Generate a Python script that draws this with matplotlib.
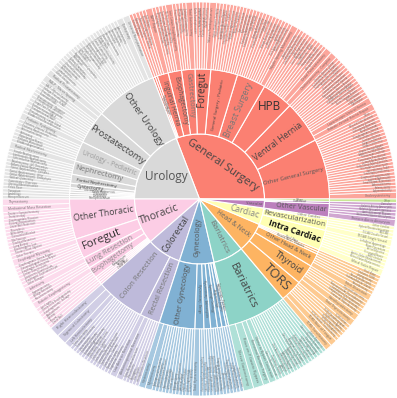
import math
import matplotlib.pyplot as plt
import matplotlib.colors as mcolors

plt.rcParams['font.family'] = ['Open Sans', 'DejaVu Sans']

# ---- 叶子层：手术名称与病例数 ----
# General Surgery
other_general_surgery = [("Cholecystectomy", 2), ("Appendectomy", 1), ("Splenectomy", 1), ("Adrenalectomy", 1),
                         ("Small Bowel Resection", 1), ("Lysis of Adhesions", 1), ("Diagnostic Laparoscopy", 1),
                         ("Feeding Jejunostomy", 1), ("Gastrostomy Tube", 1), ("Pilonidal Cyst Excision", 1),
                         ("Soft Tissue Mass Excision", 1), ("Lymph Node Biopsy", 1), ("Pancreatic Pseudocyst", 1),
                         ("Peritoneal Catheter", 1), ("Abdominal Wall Mass", 1), ("Hiatal Hernia Repair", 1),
                         ("Umbilical Hernia", 1), ("Spigelian Hernia", 1), ("Lumbar Hernia", 1),
                         ("Obturator Hernia", 1), ("Diaphragmatic Hernia", 1), ("Mesh Removal", 1),
                         ("Colostomy Reversal", 1), ("Ileostomy Creation", 1), ("Wound Debridement", 1), ("Other", 1)]
ventral_hernia = [("Robotic Ventral Hernia Repair", 2), ("Laparoscopic Ventral Hernia", 2), ("TAR Repair", 1),
                  ("eTEP Repair", 1), ("IPOM Repair", 1), ("Rives-Stoppa Repair", 1), ("Incisional Hernia Repair", 1),
                  ("Parastomal Hernia Repair", 1), ("Umbilical Hernia Repair", 1), ("Epigastric Hernia Repair", 1),
                  ("Recurrent Ventral Hernia", 1), ("Component Separation", 1), ("Diastasis Recti Repair", 1),
                  ("Flank Hernia Repair", 1), ("Suprapubic Hernia Repair", 1), ("Subxiphoid Hernia Repair", 1),
                  ("Ventral Hernia - Other", 1)]
hpb = [("Cholecystectomy - Complex", 2), ("Distal Pancreatectomy", 2), ("Whipple Procedure", 1),
       ("Liver Resection", 1), ("Hepatectomy - Left", 1), ("Hepatectomy - Right", 1), ("Segmentectomy", 1),
       ("Liver Wedge Resection", 1), ("CBD Exploration", 1), ("Choledochal Cyst Excision", 1),
       ("Pancreatic Enucleation", 1), ("Hepaticojejunostomy", 1)]
breast_surgery = [("Nipple Sparing Mastectomy", 2), ("Robotic Mastectomy", 1), ("Skin Sparing Mastectomy", 1),
                  ("Lumpectomy", 1), ("Sentinel Node Biopsy", 1), ("Axillary Dissection", 1),
                  ("Breast Reconstruction", 1), ("DIEP Flap", 1), ("Latissimus Flap", 1),
                  ("Prophylactic Mastectomy", 1), ("Breast Reduction", 1), ("Other Breast", 1)]
gs_pediatric = [("Pediatric Cholecystectomy", 1), ("Pediatric Appendectomy", 1), ("Pyloromyotomy", 1),
                ("Kasai Procedure", 1), ("Nissen - Pediatric", 1), ("Pediatric Splenectomy", 1),
                ("Pediatric Inguinal Hernia", 1), ("Choledochal Cyst - Pediatric", 1), ("Pull-through Procedure", 1),
                ("Duodenal Atresia Repair", 1), ("Pediatric Gastrostomy", 1), ("Other Pediatric Surgery", 1)]
gs_foregut = [("Nissen Fundoplication", 2), ("Heller Myotomy", 1), ("Paraesophageal Hernia", 1),
              ("Toupet Fundoplication", 1), ("LINX Placement", 1), ("Redo Fundoplication", 1)]
gastrectomy = [("Total Gastrectomy", 2), ("Subtotal Gastrectomy", 1), ("Distal Gastrectomy", 1),
               ("Wedge Gastrectomy", 1), ("Proximal Gastrectomy", 1)]
gs_esophagectomy = [("Ivor Lewis Esophagectomy", 2), ("McKeown Esophagectomy", 1), ("Transhiatal Esophagectomy", 1),
                    ("Minimally Invasive Esophagectomy", 1), ("Esophageal Diverticulum", 1)]
inguinal_hernia = [("TAPP Repair", 2), ("TEP Repair", 1), ("Bilateral Inguinal Hernia", 1),
                   ("Recurrent Inguinal Hernia", 1)]
bowel_resection = [("Bowel Resection", 1)]
fistula_repair = [("Fistula Repair", 1)]

# Urology
other_urology = [("Ureteral Reimplantation", 2), ("Pyeloplasty", 2), ("Adrenalectomy", 1), ("Urethroplasty", 1),
                 ("Sacrocolpopexy", 1), ("Ureterolysis", 1), ("Ureteroureterostomy", 1), ("Boari Flap", 1),
                 ("Psoas Hitch", 1), ("Bladder Diverticulectomy", 1), ("Partial Cystectomy", 1),
                 ("Vesicovaginal Fistula", 1), ("Retroperitoneal LND", 1), ("Nephroureterectomy", 1),
                 ("Simple Prostatectomy", 1), ("Ileal Conduit", 1), ("Neobladder", 1),
                 ("Augmentation Cystoplasty", 1), ("Mitrofanoff", 1), ("Kidney Transplant", 1),
                 ("Donor Nephrectomy", 1), ("Urachal Excision", 1), ("Varicocelectomy", 1), ("Orchiectomy", 1),
                 ("Lymphadenectomy", 1), ("Other Urology", 1)]
prostatectomy = [("Radical Prostatectomy", 2), ("RALP - Nerve Sparing", 2), ("RALP - Retzius Sparing", 1),
                 ("Salvage Prostatectomy", 1), ("Prostatectomy + PLND", 1), ("Extended PLND", 1),
                 ("Prostatectomy - Posterior", 1), ("Prostatectomy - Anterior", 1), ("Single Port Prostatectomy", 1),
                 ("Extraperitoneal RALP", 1), ("Transperitoneal RALP", 1), ("Prostatectomy - Large Gland", 1),
                 ("Bladder Neck Reconstruction", 1)]
urology_pediatric = [("Pediatric Pyeloplasty", 2), ("Pediatric Ureteral Reimplant", 1), ("Pediatric Nephrectomy", 1),
                     ("Heminephrectomy", 1), ("Orchiopexy", 1), ("Hypospadias Repair", 1),
                     ("Pediatric Mitrofanoff", 1), ("Bladder Augmentation", 1)]
nephrectomy = [("Radical Nephrectomy", 2), ("Simple Nephrectomy", 1), ("Laparoscopic Nephrectomy", 1),
               ("Cytoreductive Nephrectomy", 1), ("Nephrectomy - IVC Thrombus", 1)]
partial_nephrectomy = [("Robotic Partial Nephrectomy", 1), ("Partial Nephrectomy - Complex", 1),
                       ("Partial Nephrectomy - Hilar", 1), ("Partial Nephrectomy - Endophytic", 1)]
cystectomy = [("Radical Cystectomy", 1), ("Cystectomy + Diversion", 1)]
ureteral_reconstruction = [("Ureteral Reconstruction", 1)]
pelvic_floor = [("Pelvic Floor", 1)]
transplant = [("Transplant", 1)]
andrology = [("Andrology", 1)]
retroperitoneum = [("Retroperitoneum", 1)]

# Thoracic
other_thoracic = [("Thymectomy", 2), ("Mediastinal Mass Resection", 2), ("Thoracic Sympathectomy", 1),
                  ("Thoracoscopy", 1), ("Diaphragmatic Plication", 1), ("Pleural Decortication", 1),
                  ("Chest Wall Resection", 1), ("Pleurodesis", 1), ("Bullectomy", 1), ("Pericardial Window", 1),
                  ("Rib Fixation", 1), ("Tracheal Resection", 1), ("Lung Biopsy", 1), ("Bronchogenic Cyst", 1),
                  ("Thoracic Duct Ligation", 1), ("Other Thoracic", 1)]
thoracic_foregut = [("Esophageal Myotomy", 2), ("Diaphragmatic Hernia Repair", 1), ("Paraesophageal Hernia Repair", 1),
                    ("Esophageal Leiomyoma", 1), ("Zenker Diverticulum", 1), ("Epiphrenic Diverticulum", 1),
                    ("Esophageal Duplication Cyst", 1), ("Other Foregut", 1)]
lung_resection = [("Lobectomy", 2), ("Segmentectomy", 1), ("Wedge Resection", 1), ("Pneumonectomy", 1)]
thoracic_esophagectomy = [("Robotic Esophagectomy", 2), ("Ivor Lewis", 1), ("Three-Field Esophagectomy", 1),
                          ("Esophagectomy - Salvage", 1)]
mediastinum = [("Mediastinum", 1)]
airway = [("Airway", 1)]
pleura = [("Pleura", 1)]
chest_wall = [("Chest Wall", 1)]

# Colorectal
colon_resection = [("Right Hemicolectomy", 3), ("Sigmoid Colectomy", 3), ("Left Hemicolectomy", 2),
                   ("Total Colectomy", 1), ("Transverse Colectomy", 1), ("Ileocecectomy", 1),
                   ("Subtotal Colectomy", 1), ("Extended Right Colectomy", 1), ("Hartmann Reversal", 1),
                   ("Colectomy - Diverticulitis", 1), ("Colectomy - Cancer", 1), ("Colectomy - IBD", 1),
                   ("Complete Mesocolic Excision", 1), ("Splenic Flexure Resection", 1), ("Colectomy + Ostomy", 1),
                   ("Redo Colectomy", 1), ("Segmental Colectomy", 1)]
rectal_resection = [("Low Anterior Resection", 2), ("Abdominoperineal Resection", 2),
                    ("Total Mesorectal Excision", 1), ("Proctectomy", 1), ("Rectopexy", 1), ("Ileal Pouch", 1),
                    ("Intersphincteric Resection", 1)]

# Gynecology
other_gynecology = [("Hysterectomy", 2), ("Myomectomy", 2), ("Salpingo-oophorectomy", 1), ("Ovarian Cystectomy", 1),
                    ("Endometriosis Excision", 1), ("Sacrocolpopexy", 1), ("Cervical Cerclage", 1),
                    ("Tubal Ligation", 1), ("Salpingectomy", 1), ("Ovarian Transposition", 1), ("Adnexal Mass", 1),
                    ("Vaginal Cuff Repair", 1), ("Other Gynecology", 1), ("Ectopic Pregnancy", 1)]
hysterectomy_benign = [("Total Hysterectomy", 2), ("Supracervical Hysterectomy", 1), ("Hysterectomy - Fibroids", 1)]
hysterectomy_adenomyosis = [("Adenomyomectomy", 1), ("Hysterectomy - Large Uterus", 1),
                            ("Hysterectomy - Adenomyosis", 1)]
gyn_oncology = [("Radical Hysterectomy", 1), ("Staging Lymphadenectomy", 1), ("Omentectomy", 1)]
urogynecology = [("Pelvic Organ Prolapse", 1), ("Burch Colposuspension", 1)]
reproductive_surgery = [("Tubal Reanastomosis", 1), ("Septum Resection", 1)]
gyn_pediatric = [("Ovarian Torsion", 1)]

# Bariatrics
bariatrics_procs = [("Sleeve Gastrectomy", 3), ("Roux-en-Y Gastric Bypass", 3), ("Revisional Bariatric Surgery", 2),
                    ("Sleeve to Bypass Conversion", 2), ("Gastric Band Removal", 1), ("Duodenal Switch", 1),
                    ("SADI-S", 1), ("One Anastomosis Bypass", 1), ("Band to Sleeve", 1), ("Band to Bypass", 1),
                    ("Bypass Revision", 1), ("Bypass Reversal", 1), ("Gastrojejunostomy Revision", 1),
                    ("Marginal Ulcer Repair", 1), ("Internal Hernia Repair", 1), ("Hiatal Hernia + Sleeve", 1),
                    ("Gastric Plication", 1), ("Limb Lengthening", 1), ("Pouch Resizing", 1),
                    ("Gastric Balloon Removal", 1), ("Other Bariatrics", 1)]

# Head & Neck
tors = [("TORS Tonsillectomy", 2), ("TORS Base of Tongue", 2), ("TORS Radical Tonsillectomy", 1),
        ("TORS Supraglottic", 1), ("TORS Lingual Tonsil", 1), ("TORS Sleep Apnea", 1), ("TORS Parapharyngeal", 1),
        ("TORS Other", 1)]
thyroid = [("Total Thyroidectomy", 2), ("Hemithyroidectomy", 2), ("Transoral Thyroidectomy", 1),
           ("Transaxillary Thyroidectomy", 1), ("Completion Thyroidectomy", 1), ("Retroauricular Thyroidectomy", 1),
           ("Thyroid Lobectomy", 1)]
other_head_neck = [("Neck Dissection", 2), ("Parotidectomy", 1), ("Submandibular Gland", 1),
                   ("Parathyroidectomy", 1), ("Laryngectomy", 1)]
hn_pediatric = [("Pediatric TORS", 1)]
skull_base = [("Skull Base", 1)]

# Cardiac
intra_cardiac = [("Mitral Valve Repair", 2), ("Mitral Valve Replacement", 1), ("Aortic Valve Replacement", 1),
                 ("ASD Closure", 1), ("Tricuspid Repair", 1), ("Atrial Myxoma", 1), ("Maze Procedure", 1),
                 ("Left Atrial Appendage", 1)]
revascularization = [("TECAB Single Vessel", 2), ("TECAB Double Vessel", 1), ("MIDCAB", 1),
                     ("Hybrid Revascularization", 1)]
other_cardiac = [("Other Cardiac", 1)]

# Vascular / Other
other_vascular = [("Thoracic Aortic Aneurysm", 2), ("Abdominal Aortic Aneurysm", 1), ("Aortobifemoral Bypass", 1),
                  ("Median Arcuate Ligament", 1), ("Splenic Artery Aneurysm", 1)]
vascular_procs = [("Vascular", 1)]
other_procs = [("Other", 1)]

# ---- 中间层 ----
general_surgery = [("Other General Surgery", other_general_surgery), ("Ventral Hernia", ventral_hernia),
                   ("HPB", hpb), ("Breast Surgery", breast_surgery),
                   ("General Surgery - Pediatric", gs_pediatric), ("Foregut", gs_foregut),
                   ("Gastrectomy", gastrectomy), ("Esophagectomy", gs_esophagectomy),
                   ("Inguinal Hernia", inguinal_hernia), ("Bowel Resection", bowel_resection),
                   ("Fistula Repair", fistula_repair)]
urology = [("Other Urology", other_urology), ("Prostatectomy", prostatectomy),
           ("Urology - Pediatric", urology_pediatric), ("Nephrectomy", nephrectomy),
           ("Partial Nephrectomy", partial_nephrectomy), ("Cystectomy", cystectomy),
           ("Ureteral Reconstruction", ureteral_reconstruction), ("Pelvic Floor", pelvic_floor),
           ("Transplant", transplant), ("Andrology", andrology), ("Retroperitoneum", retroperitoneum)]
thoracic = [("Other Thoracic", other_thoracic), ("Foregut", thoracic_foregut), ("Lung Resection", lung_resection),
            ("Esophagectomy", thoracic_esophagectomy), ("Mediastinum", mediastinum), ("Airway", airway),
            ("Pleura", pleura), ("Chest Wall", chest_wall)]
colorectal = [("Colon Resection", colon_resection), ("Rectal Resection", rectal_resection)]
gynecology = [("Other Gynecology", other_gynecology), ("Hysterectomy - Benign", hysterectomy_benign),
              ("Hysterectomy - Adenomyosis", hysterectomy_adenomyosis), ("Gynecologic Oncology", gyn_oncology),
              ("Urogynecology", urogynecology), ("Reproductive Surgery", reproductive_surgery),
              ("Gynecology - Pediatric", gyn_pediatric)]
bariatrics = [("Bariatrics", bariatrics_procs)]
head_neck = [("TORS", tors), ("Thyroid", thyroid), ("Other Head & Neck", other_head_neck),
             ("Head & Neck - Pediatric", hn_pediatric), ("Skull Base", skull_base)]
cardiac = [("Intra Cardiac", intra_cardiac), ("Revascularization", revascularization),
           ("Other Cardiac", other_cardiac)]
vascular = [("Other Vascular", other_vascular), ("Vascular", vascular_procs)]
other = [("Other", other_procs)]

# ---- 内层 ----
specialties = ["General Surgery", "Urology", "Thoracic", "Colorectal", "Gynecology",
               "Bariatrics", "Head & Neck", "Cardiac", "Vascular", "Other"]
specialty_children = [general_surgery, urology, thoracic, colorectal, gynecology,
                      bariatrics, head_neck, cardiac, vascular, other]
specialty_colors = ["#FB8072", "#D9D9D9", "#FCCDE5", "#BEBADA", "#80B1D3",
                    "#8DD3C7", "#FDB462", "#FFFFB3", "#BC80BD", "#B3DE69"]

# 标签样式: (字号, 颜色, 方向, 半径)
inner_style = {
    "General Surgery": (8, "#444444", "tangential", 41),
    "Urology": (8.5, "#555555", "horizontal", 40),
    "Thoracic": (7.5, "#444444", "radial", 43),
    "Colorectal": (6.5, "#444444", "radial", 42),
    "Gynecology": (5.2, "#555555", "radial", 38),
    "Bariatrics": (6, "#777777", "radial", 42),
    "Head & Neck": (4.8, "#666666", "radial", 42),
    "Cardiac": (6.2, "#888888", "radial", 47),
    "Vascular": (3, "#555555", "radial", 55),
}
mid_style = {
    ("General Surgery", "Other General Surgery"): (4.2, "#555555", "radial", 97),
    ("General Surgery", "Ventral Hernia"): (6.2, "#444444", "radial", 97),
    ("General Surgery", "HPB"): (8.5, "#333333", "horizontal", 116),
    ("General Surgery", "Breast Surgery"): (6.2, "#777777", "radial", 97),
    ("General Surgery", "General Surgery - Pediatric"): (3, "#444444", "radial", 96),
    ("General Surgery", "Foregut"): (7, "#333333", "radial", 110),
    ("General Surgery", "Gastrectomy"): (5.5, "#777777", "radial", 104),
    ("General Surgery", "Esophagectomy"): (4.9, "#555555", "radial", 100),
    ("General Surgery", "Inguinal Hernia"): (4.7, "#555555", "radial", 100),
    ("Urology", "Other Urology"): (6.8, "#444444", "radial", 97),
    ("Urology", "Prostatectomy"): (6.8, "#444444", "radial", 98),
    ("Urology", "Urology - Pediatric"): (4.9, "#999999", "radial", 97),
    ("Urology", "Nephrectomy"): (5.6, "#777777", "radial", 104),
    ("Urology", "Partial Nephrectomy"): (3.1, "#333333", "radial", 104),
    ("Urology", "Cystectomy"): (3.6, "#444444", "radial", 110),
    ("Thoracic", "Other Thoracic"): (6.3, "#444444", "radial", 97),
    ("Thoracic", "Foregut"): (8.2, "#333333", "radial", 106),
    ("Thoracic", "Lung Resection"): (5.3, "#888888", "radial", 103),
    ("Thoracic", "Esophagectomy"): (4.9, "#888888", "radial", 105),
    ("Colorectal", "Colon Resection"): (5.6, "#777777", "radial", 97),
    ("Colorectal", "Rectal Resection"): (5.3, "#777777", "radial", 97),
    ("Gynecology", "Other Gynecology"): (5.2, "#555555", "radial", 97),
    ("Bariatrics", "Bariatrics"): (8, "#444444", "radial", 97),
    ("Head & Neck", "TORS"): (9.5, "#444444", "radial", 110),
    ("Head & Neck", "Thyroid"): (6.6, "#444444", "radial", 110),
    ("Head & Neck", "Other Head & Neck"): (4.1, "#555555", "radial", 100),
    ("Cardiac", "Intra Cardiac"): (6, "#111111", "radial", 100),
    ("Cardiac", "Revascularization"): (5.6, "#555555", "radial", 97),
    ("Cardiac", "Other Cardiac"): (2.6, "#666666", "radial", 110),
    ("Vascular", "Other Vascular"): (5.2, "#555555", "radial", 102),
    ("Vascular", "Vascular"): (2.4, "#555555", "radial", 100),
}
bold_labels = {("Cardiac", "Intra Cardiac")}

R_IN, R_MID, R_OUT = 65, 130, 197


def label_rotation(theta, mode):
    """根据方向模式计算文字旋转角"""
    if mode == "horizontal":
        return 0
    if mode == "tangential":
        rot = theta - 90
        if rot < -90:
            rot += 180
        return rot
    rot = theta
    if 90 < theta < 270:
        rot -= 180
    elif theta >= 270:
        rot -= 360
    return rot


def put_label(ax, text, theta, r, fs, color, mode, weight="normal"):
    x = r * math.cos(math.radians(theta))
    y = r * math.sin(math.radians(theta))
    ax.text(x, y, text, fontsize=fs, color=color, ha="center", va="center",
            rotation=label_rotation(theta, mode), rotation_mode="anchor", fontweight=weight)


# 整理三层数据
inner_vals = []
mid_names, mid_vals, mid_colors, mid_groups = [], [], [], []
leaf_names, leaf_vals, leaf_colors = [], [], []
for name, children, color in zip(specialties, specialty_children, specialty_colors):
    total = 0
    for mname, leaves in children:
        msum = sum(v for _, v in leaves)
        mid_names.append(mname)
        mid_vals.append(msum)
        mid_colors.append(color)
        mid_groups.append(name)
        total += msum
        for lname, v in leaves:
            leaf_names.append(lname)
            leaf_vals.append(v)
            leaf_colors.append(mcolors.to_rgba(color, 0.7))
    inner_vals.append(total)

fig = plt.figure(figsize=(3.97, 3.98), dpi=100)
ax = fig.add_axes([0, 0, 1, 1])

w_in, _ = ax.pie(inner_vals, radius=R_IN, colors=specialty_colors, startangle=0, counterclock=True,
                 wedgeprops=dict(width=R_IN, edgecolor="white", linewidth=0.8))
w_mid, _ = ax.pie(mid_vals, radius=R_MID, colors=mid_colors, startangle=0, counterclock=True,
                  wedgeprops=dict(width=R_MID - R_IN, edgecolor="white", linewidth=0.8))
w_out, _ = ax.pie(leaf_vals, radius=R_OUT, colors=leaf_colors, startangle=0, counterclock=True,
                  wedgeprops=dict(width=R_OUT - R_MID, edgecolor="white", linewidth=0.6))

# 内层标签
for w, name in zip(w_in, specialties):
    if name not in inner_style:
        continue
    fs, color, mode, r = inner_style[name]
    put_label(ax, name, (w.theta1 + w.theta2) / 2, r, fs, color, mode)

# 中间层标签
for w, name, grp in zip(w_mid, mid_names, mid_groups):
    fs, color, mode, r = mid_style.get((grp, name), (2.0, "#555555", "radial", 100))
    weight = "bold" if (grp, name) in bold_labels else "normal"
    put_label(ax, name, (w.theta1 + w.theta2) / 2, r, fs, color, mode, weight)

# 外层标签：径向排列，贴近外缘
for w, name, v in zip(w_out, leaf_names, leaf_vals):
    theta = (w.theta1 + w.theta2) / 2
    fs = min(1.9 + 0.5 * (v - 1), 58 / (0.75 * len(name)))
    r = R_OUT - 5
    x = r * math.cos(math.radians(theta))
    y = r * math.sin(math.radians(theta))
    if 90 < theta < 270:
        rot, ha = theta - 180, "left"
    else:
        rot, ha = (theta if theta < 90 else theta - 360), "right"
    ax.text(x, y, name, fontsize=fs, color="#555555", alpha=0.8, ha=ha, va="center",
            rotation=rot, rotation_mode="anchor")

ax.set_xlim(-199.5, 197.5)
ax.set_ylim(-199, 199)
ax.set_aspect("auto")
ax.axis("off")

plt.savefig("out.png", dpi=100)
plt.close()
